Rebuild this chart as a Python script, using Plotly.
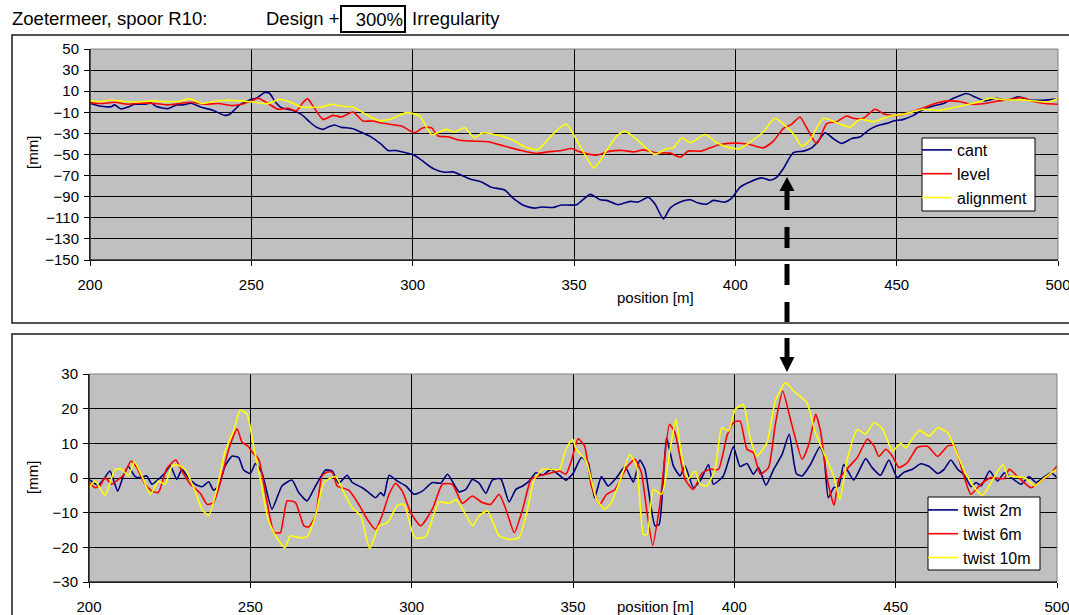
import plotly.graph_objects as go

# ---- track geometry along spoor R10, position [m] -> deviation [mm] ----
CANT = [(200, -1.7), (203.5, -4.3), (206.6, -4.6), (207.6, -3.0), (209.7, -6.8), (211.8, -4.9),
        (213.8, -2.4), (216.9, -2.4), (219.0, -1.1), (220.6, -4.6), (224.2, -6.5), (226.8, -3.0),
        (228.8, -3.0), (231.4, -1.4), (234.5, -5.2), (238.1, -8.1), (241.7, -12.9), (243.3, -11.9),
        (246.4, -3.0), (250.0, 2.4), (251.6, 3.3), (254.1, 8.7), (255.7, 7.8), (257.2, 0.8),
        (259.3, -5.6), (262.4, -7.8), (265.5, -11.9), (268.1, -19.2), (270.1, -24.0), (272.2, -26.2),
        (273.8, -24.0), (275.8, -22.0), (277.9, -24.3), (279.4, -24.6), (281.5, -25.6), (284.1, -29.0),
        (287.2, -33.5), (290.3, -40.5), (292.4, -46.2), (294.9, -46.2), (297.5, -48.1), (300.0, -50.0),
        (302.2, -54.1), (304.8, -60.2), (306.8, -64.0), (309.9, -66.8), (312.5, -66.5), (314.6, -69.0),
        (317.7, -73.2), (321.3, -76.0), (324.4, -81.1), (328.5, -83.7), (331.1, -91.3), (334.7, -98.6),
        (337.8, -100.8), (339.9, -99.8), (343.5, -100.2), (346.1, -97.9), (350.8, -97.6), (355.0, -87.8),
        (358.1, -92.9), (360.1, -93.5), (363.7, -97.6), (367.4, -94.4), (369.9, -95.1), (373.0, -90.6),
        (375.1, -97.0), (377.7, -111.0), (379.8, -100.8), (382.9, -95.1), (386.0, -92.9), (388.5, -96.0),
        (391.1, -97.0), (393.2, -93.5), (396.8, -95.1), (398.9, -91.3), (401.4, -81.1), (404.5, -76.0),
        (408.2, -72.2), (410.7, -74.4), (412.8, -71.6), (414.9, -63.3), (417.9, -48.4), (421.1, -46.8),
        (423.7, -43.7), (425.7, -37.3), (427.8, -29.4), (430.4, -35.1), (433.0, -39.5), (436.1, -34.8),
        (438.6, -33.5), (441.2, -27.1), (443.8, -23.0), (446.9, -20.5), (449.0, -18.3), (452.1, -16.7),
        (455.2, -12.9), (458.3, -7.1), (461.4, -4.0), (464.5, -1.7), (467.6, 3.3), (471.7, 7.8),
        (474.3, 4.6), (477.4, 0.8), (481.0, 3.3), (484.1, 1.4), (487.7, 4.6), (491.3, 1.7),
        (495.5, 1.4), (500.0, 3.0)]

LEVEL = [(200, -0.8), (203.5, -1.7), (207.6, -0.5), (211.8, -2.4), (215.9, -1.1), (220.0, -1.7),
         (224.2, -3.0), (228.3, -1.4), (231.4, -0.5), (235.5, -2.4), (239.7, -1.7), (244.0, -3.7),
         (246.9, -2.4), (250.0, 0.8), (252.1, 3.3), (255.2, -1.7), (258.3, -7.1), (261.4, -6.2),
         (263.9, -8.7), (266.0, -0.8), (267.4, 3.0), (269.1, -4.0), (272.2, -16.7), (275.3, -12.9),
         (277.9, -14.4), (281.5, -9.7), (284.6, -18.3), (287.7, -18.3), (290.3, -20.2), (296.5, -23.0),
         (300.6, -29.4), (303.2, -24.6), (305.8, -24.6), (307.9, -32.5), (311.0, -33.2), (314.1, -36.3),
         (318.2, -37.3), (323.4, -37.9), (328.5, -42.1), (333.7, -46.2), (338.4, -49.0), (341.9, -47.5),
         (346.1, -46.2), (349.2, -44.3), (351.9, -47.5), (357.0, -50.6), (361.2, -46.8), (365.3, -46.2),
         (368.4, -47.5), (371.5, -45.6), (375.6, -48.4), (379.8, -48.7), (382.9, -52.5), (385.4, -46.8),
         (389.4, -46.8), (392.2, -43.7), (395.3, -40.5), (400.4, -39.2), (404.5, -40.5), (408.6, -43.7),
         (411.8, -37.3), (414.9, -25.2), (417.4, -21.4), (420.0, -14.4), (422.1, -24.6), (425.2, -39.8),
         (428.3, -20.8), (431.4, -18.9), (434.5, -13.5), (436.5, -15.7), (439.6, -15.7), (443.3, -7.1),
         (446.3, -11.9), (449.8, -12.9), (454.0, -10.3), (458.0, -6.2), (462.1, -1.4), (466.2, 0.8),
         (469.3, 0.2), (473.4, -2.4), (477.5, -1.7), (481.6, 0.8), (485.7, 2.4), (488.8, 4.0),
         (491.9, 0.8), (496.1, -1.7), (500.0, -2.4)]

ALIGNMENT = [(200, 0.8), (203.5, 0.2), (206.6, 1.7), (210.7, 0.2), (214.8, -0.2), (219.0, 0.8),
             (223.1, 0.2), (227.3, 0.2), (230.9, 3.0), (234.5, -1.7), (238.6, 0.2), (242.8, 1.4),
             (246.9, 0.8), (251.0, -0.5), (255.2, -1.7), (258.8, 2.4), (262.4, -0.8), (265.5, -4.9),
             (271.7, -4.9), (275.3, -2.4), (277.9, -4.3), (281.5, -4.9), (285.1, -11.3), (289.2, -17.6),
             (292.9, -16.7), (298.1, -10.3), (302.2, -13.5), (305.8, -31.0), (310.4, -26.2), (313.0, -28.7),
             (316.1, -24.6), (319.1, -34.1), (321.7, -29.4), (327.4, -32.5), (331.0, -36.3), (334.7, -42.7),
             (338.8, -45.2), (342.4, -34.1), (345.0, -26.2), (347.6, -21.4), (351.9, -42.1), (356.2, -62.7),
             (360.1, -46.2), (363.2, -32.5), (365.8, -27.8), (369.4, -35.7), (375.1, -50.0), (378.7, -44.3),
             (380.8, -43.7), (383.4, -34.1), (386.0, -38.9), (390.6, -31.0), (394.2, -38.9), (398.4, -43.7),
             (401.4, -44.3), (405.0, -37.3), (408.7, -28.4), (412.3, -15.7), (415.9, -24.0), (418.5, -32.5),
             (420.6, -42.1), (423.2, -35.7), (427.3, -15.7), (431.4, -19.8), (435.6, -24.0), (438.6, -16.7),
             (442.8, -18.9), (448.0, -13.5), (452.1, -11.9), (458.3, -7.1), (463.4, -8.1), (469.6, -4.0),
             (474.8, -0.8), (478.9, 3.3), (484.1, 1.7), (489.3, 1.7), (494.4, 0.2), (497.5, 0.2),
             (500.0, 3.3)]

TWIST_2M = [(200, -0.4), (201.3, -1.3), (202.9, -2.1), (204.5, -0.4), (206.5, 2.0), (208.9, -3.8),
            (210.7, 0.8), (212.2, 3.3), (214.3, 0.4), (215.8, 0.1), (217.9, 0.6), (219.5, -1.8),
            (221.5, -0.4), (223.6, 1.5), (225.2, 3.5), (227.2, -0.4), (228.8, 2.5), (230.8, 0.1),
            (232.9, -1.8), (235.0, -2.5), (237.1, -1.1), (238.6, -3.5), (240.2, -2.3), (242.2, 3.5),
            (244.3, 6.3), (246.4, 5.9), (247.9, 2.3), (250.0, 1.3), (251.6, 4.2), (253.6, 1.5),
            (256.7, -9.0), (259.8, -2.3), (262.9, -0.6), (265.0, -4.2), (267.6, -6.6), (270.2, -2.3),
            (273.3, 2.3), (275.4, 2.0), (277.4, -1.5), (280.0, 0.8), (281.6, -1.3), (284.7, -2.8),
            (286.7, -4.2), (288.8, -5.7), (290.4, -4.2), (291.4, -5.2), (293.0, 0.8), (295.6, -0.9),
            (298.2, -2.3), (300.7, -4.7), (303.3, -3.8), (306.4, -1.3), (309.0, -1.5), (311.1, 1.1),
            (314.7, -4.0), (316.8, -3.3), (318.8, -0.4), (320.9, -1.5), (323.0, -4.4), (325.0, -0.6),
            (327.6, -0.2), (330.2, -6.9), (332.3, -3.3), (334.4, -2.3), (336.4, -0.9), (338.5, 1.5),
            (340.6, 0.8), (343.2, 2.5), (345.8, 0.8), (347.8, -0.6), (350.0, 1.3), (352.6, 5.9),
            (354.7, 4.4), (356.7, -5.7), (358.8, 0.4), (360.9, -2.3), (363.5, 0.1), (366.1, 3.3),
            (368.7, -1.2), (370.7, 5.2), (372.3, 2.5), (375.4, -13.8), (376.7, -13.4), (379.0, 11.6),
            (381.1, 3.5), (383.2, 0.6), (384.7, 3.5), (387.3, -2.8), (389.4, -0.9), (392.0, 3.9),
            (393.5, -1.8), (396.6, 0.6), (399.7, 9.0), (401.8, 3.3), (403.9, 4.2), (405.9, 1.1),
            (407.5, 3.0), (409.8, -2.1), (412.2, 2.5), (414.8, 6.8), (417.0, 12.6), (419.2, 1.3),
            (421.0, 0.6), (423.6, 3.9), (426.5, 9.0), (427.7, 6.8), (429.1, -5.7), (430.8, -2.8),
            (432.4, -2.3), (433.9, 3.9), (437.0, -0.6), (440.7, 5.6), (442.7, 3.0), (445.3, 0.8),
            (447.9, 5.2), (450.5, 0.1), (452.6, 1.7), (455.2, 2.5), (457.8, 4.1), (460.4, 3.3),
            (463.0, 1.3), (465.0, 2.5), (467.1, 5.2), (469.2, 2.5), (471.3, 0.8), (473.4, -2.5),
            (474.9, -1.3), (476.5, -2.3), (479.1, 2.0), (481.6, -0.9), (483.7, 1.5), (485.8, 0.1),
            (488.9, -1.8), (491.3, 0.4), (493.5, -1.3), (496.1, 0.4), (498.2, 1.5), (500.0, 0.1)]

TWIST_6M = [(200, -1.3), (201.9, -2.8), (203.4, -2.3), (205.0, 0.1), (207.0, -1.8), (209.1, -0.4),
            (210.7, 0.8), (213.0, 4.9), (214.8, 3.0), (217.4, -1.8), (219.5, -3.8), (221.5, -4.2),
            (224.1, 2.7), (226.9, 5.2), (228.8, 2.0), (231.4, -1.8), (234.5, -4.4), (236.6, -7.6),
            (238.6, -7.1), (240.7, -1.3), (243.3, 8.3), (245.9, 14.2), (247.4, 10.4), (249.5, 9.0),
            (250.5, 7.5), (252.6, 5.4), (255.2, -7.1), (257.3, -15.6), (259.3, -15.8), (261.4, -6.6),
            (264.0, -7.1), (266.6, -13.8), (268.1, -14.1), (270.2, -10.9), (272.2, 0.6), (273.8, 1.7),
            (275.4, 1.7), (276.9, -2.3), (280.5, -3.5), (283.6, -7.6), (286.2, -11.9), (288.8, -14.8),
            (290.8, -10.9), (293.0, -4.7), (295.0, -1.5), (297.1, -3.8), (299.7, -10.0), (302.8, -13.8),
            (306.4, -9.0), (309.5, -1.8), (312.6, -1.8), (315.7, -7.3), (318.8, -5.2), (321.9, -7.1),
            (324.5, -7.6), (327.1, -4.7), (329.2, -9.0), (331.8, -15.8), (334.4, -9.0), (337.0, -0.4),
            (339.5, 0.6), (342.7, 1.3), (345.8, 2.0), (347.8, 1.1), (349.5, 5.0), (351.6, 11.3),
            (353.6, 9.2), (355.7, -2.3), (358.3, -7.6), (360.4, -4.7), (363.0, -3.3), (366.6, 3.0),
            (369.2, 5.4), (371.2, 1.5), (372.8, -9.0), (374.7, -19.4), (377.0, -7.1), (379.9, 15.5),
            (381.6, 13.1), (384.7, -0.4), (387.3, -3.3), (389.9, 1.3), (392.5, 2.5), (395.1, 2.5),
            (397.7, 12.1), (399.7, 16.0), (401.8, 16.4), (403.9, 8.3), (405.9, 7.3), (408.0, 1.1),
            (410.6, 3.0), (412.7, 15.5), (415.0, 25.1), (417.4, 16.9), (421.0, 5.4), (423.1, 9.7),
            (425.2, 18.4), (426.7, 13.6), (428.8, -0.4), (430.9, -7.9), (432.4, -0.4), (435.0, 2.7),
            (438.1, 5.9), (441.2, 11.2), (443.3, 9.2), (444.8, 6.2), (446.9, 8.3), (449.0, 6.3),
            (451.0, 3.0), (453.6, 4.4), (456.7, 8.8), (459.8, 9.2), (463.0, 6.2), (466.1, 9.2),
            (468.1, 9.4), (470.7, 2.0), (473.3, -4.7), (476.4, -1.8), (479.5, 0.1), (483.6, -0.2),
            (485.2, 2.5), (487.8, 0.4), (491.9, -2.8), (495.0, -0.9), (498.1, 1.3), (500.0, 3.5)]

TWIST_10M = [(200, -2.8), (201.9, -0.9), (205.0, -5.0), (208.1, 2.5), (210.1, 2.5), (212.2, 0.6),
             (214.1, 4.6), (216.4, 0.6), (219.0, -4.7), (221.5, -0.9), (223.6, -1.8), (225.7, 3.5),
             (227.7, 3.7), (229.8, 2.5), (232.9, -3.8), (235.0, -9.0), (237.1, -10.9), (239.6, -3.3),
             (242.2, 7.8), (244.8, 13.6), (246.9, 19.6), (249.0, 18.4), (251.0, 9.2), (253.1, -0.4),
             (255.5, -11.9), (257.8, -16.7), (260.7, -20.1), (262.4, -16.7), (265.0, -17.2), (267.6, -16.9),
             (270.2, -10.9), (272.8, -1.3), (276.4, 0.4), (279.5, -5.2), (281.6, -8.6), (284.2, -10.9),
             (287.0, -20.4), (289.9, -13.8), (292.5, -12.9), (295.6, -7.9), (297.6, -7.6), (300.2, -15.6),
             (301.3, -17.3), (304.3, -17.0), (308.5, -6.9), (311.6, -7.3), (313.7, -6.2), (315.8, -9.0),
             (318.9, -13.8), (320.9, -10.9), (323.5, -9.5), (327.1, -16.7), (330.2, -17.7), (333.3, -17.2),
             (335.9, -9.0), (338.0, -0.4), (340.6, 2.5), (343.2, 2.5), (345.8, 2.5), (347.8, 8.3),
             (349.9, 11.2), (351.0, 8.3), (354.1, 4.9), (357.3, -6.2), (359.8, -9.0), (361.9, -7.1),
             (364.5, -0.9), (367.6, 6.8), (369.7, 3.5), (371.8, -16.3), (373.0, -16.3), (374.9, -3.3),
             (377.5, -4.7), (380.1, 8.3), (381.9, 16.9), (383.7, 6.3), (385.8, -0.2), (387.8, 2.0),
             (389.4, -1.8), (391.5, -2.3), (394.0, 2.5), (396.1, 14.5), (398.2, 13.6), (400.3, 19.8),
             (402.8, 21.2), (404.9, 11.6), (407.0, 6.3), (410.1, 10.2), (412.7, 22.2), (415.8, 27.5),
             (418.4, 25.1), (422.5, 21.7), (425.1, 13.1), (427.7, 7.3), (430.8, 0.6), (432.7, -6.2),
             (435.0, 5.4), (438.1, 14.0), (440.7, 12.6), (443.3, 16.0), (445.9, 14.2), (449.0, 7.8),
             (451.6, 10.0), (453.1, 8.7), (457.3, 13.8), (460.4, 12.1), (463.0, 14.5), (466.1, 13.1),
             (468.1, 9.2), (471.3, 2.0), (474.4, -2.8), (477.0, -5.0), (480.1, -0.4), (483.2, 3.9),
             (484.8, 0.6), (487.4, 0.4), (490.5, -0.2), (493.1, -2.3), (496.2, 0.1), (498.2, 1.5),
             (500.0, 2.5)]

TOP_SERIES = [("cant", CANT, "#000080"), ("level", LEVEL, "#FF0000"), ("alignment", ALIGNMENT, "#FFFF00")]
BOTTOM_SERIES = [("twist 2m", TWIST_2M, "#000080"), ("twist 6m", TWIST_6M, "#FF0000"),
                 ("twist 10m", TWIST_10M, "#FFFF00")]

W, H = 1069, 615
FONT = "Liberation Sans, Arial, sans-serif"


def px(x):
    return x / W


def py(y):
    return 1 - y / H


fig = go.Figure()
for name, pts, col in TOP_SERIES:
    fig.add_trace(go.Scatter(x=[p[0] for p in pts], y=[p[1] for p in pts], name=name, mode="lines",
                             line=dict(color=col, width=1.6, shape="spline", smoothing=0.6),
                             xaxis="x", yaxis="y", legend="legend"))
for name, pts, col in BOTTOM_SERIES:
    fig.add_trace(go.Scatter(x=[p[0] for p in pts], y=[p[1] for p in pts], name=name, mode="lines",
                             line=dict(color=col, width=1.6, shape="spline", smoothing=0.5),
                             xaxis="x2", yaxis="y2", legend="legend2"))

axis_common = dict(showgrid=True, gridcolor="black", gridwidth=1, zeroline=False, showline=True,
                   linecolor="black", linewidth=1, ticks="outside", ticklen=5, tickcolor="black",
                   tickfont=dict(family=FONT, size=15, color="black"), fixedrange=True,
                   automargin=False, ticklabeloverflow="allow")

legend_common = dict(xanchor="left", yanchor="top", bgcolor="rgba(0,0,0,0)", borderwidth=0,
                     font=dict(family=FONT, size=16, color="black"), itemwidth=30, tracegroupgap=0)

fig.update_layout(
    width=W, height=H, autosize=False,
    margin=dict(l=0, r=0, t=0, b=0, pad=0, autoexpand=False),
    paper_bgcolor="white", plot_bgcolor="#C0C0C0",
    font=dict(family=FONT, color="black"),
    xaxis=dict(domain=[px(90), px(1058)], anchor="y", range=[200, 500], tick0=200, dtick=50,
               ticklabelstandoff=6, **axis_common),
    yaxis=dict(domain=[py(260), py(49)], anchor="x", range=[-150, 50], tick0=50, dtick=20,
               ticklabelstandoff=2, **axis_common),
    xaxis2=dict(domain=[px(89), px(1057)], anchor="y2", range=[200, 500], tick0=200, dtick=50,
                ticklabelstandoff=6, **axis_common),
    yaxis2=dict(domain=[py(582), py(374)], anchor="x2", range=[-30, 30], tick0=0, dtick=10,
                ticklabelstandoff=2, **axis_common),
    legend=dict(x=px(917), y=py(133), **legend_common),
    legend2=dict(x=px(923), y=py(493), **legend_common),
)

shapes = []
# chart-object frames
shapes.append(dict(type="rect", xref="paper", yref="paper", x0=px(12), x1=1.05, y0=py(323), y1=py(35),
                   line=dict(color="#1a1a1a", width=1.5)))
shapes.append(dict(type="rect", xref="paper", yref="paper", x0=px(12), x1=1.05, y0=-0.05, y1=py(334),
                   line=dict(color="#1a1a1a", width=1.5)))
# grey plot-area borders, black value/category axes
for xr, yr in (("x domain", "y domain"), ("x2 domain", "y2 domain")):
    shapes.append(dict(type="rect", xref=xr, yref=yr, x0=0, x1=1, y0=0, y1=1,
                       line=dict(color="#808080", width=1), layer="above"))
    shapes.append(dict(type="line", xref=xr, yref=yr, x0=0, x1=0, y0=0, y1=1,
                       line=dict(color="black", width=1), layer="above"))
    shapes.append(dict(type="line", xref=xr, yref=yr, x0=0, x1=1, y0=0, y1=0,
                       line=dict(color="black", width=1), layer="above"))

# legend boxes
for x0, x1, y0, y1 in ((922, 1035, 138, 211), (928, 1040, 497, 570)):
    shapes.append(dict(type="rect", xref="paper", yref="paper", x0=px(x0), x1=px(x1), y0=py(y1), y1=py(y0),
                       fillcolor="white", line=dict(color="black", width=1), layer="above"))

# dashed arrow linking the two charts
ax_c, hw, sw = 787, 7.5, 2.5
shapes.append(dict(type="path", xref="paper", yref="paper", fillcolor="black", line=dict(width=0),
                   path=f"M {px(ax_c)} {py(177)} L {px(ax_c - hw)} {py(191)} L {px(ax_c + hw)} {py(191)} Z"))
shapes.append(dict(type="path", xref="paper", yref="paper", fillcolor="black", line=dict(width=0),
                   path=f"M {px(ax_c)} {py(372)} L {px(ax_c - hw)} {py(357)} L {px(ax_c + hw)} {py(357)} Z"))
for y0, y1 in ((190, 210), (227, 248), (264, 285), (302, 322), (338, 358)):
    shapes.append(dict(type="rect", xref="paper", yref="paper", x0=px(ax_c - sw), x1=px(ax_c + sw),
                       y0=py(y1), y1=py(y0), fillcolor="black", line=dict(width=0)))
fig.update_layout(shapes=shapes)

annotations = [
    dict(text="Zoetermeer, spoor R10:", x=px(10), y=py(19), xanchor="left", yanchor="middle",
         font=dict(size=18.5)),
    dict(text="Design +", x=px(264), y=py(19), xanchor="left", yanchor="middle", font=dict(size=18.5)),
    dict(text="300%", x=px(340), y=py(19), xanchor="left", yanchor="middle", font=dict(size=18.5),
         align="right", width=60, height=22, borderpad=1, borderwidth=2, bordercolor="black"),
    dict(text="Irregularity", x=px(410), y=py(19), xanchor="left", yanchor="middle", font=dict(size=18.5)),
    dict(text="[mm]", x=px(32), y=py(153), textangle=-90, xanchor="center", yanchor="middle",
         font=dict(size=15)),
    dict(text="[mm]", x=px(32), y=py(478), textangle=-90, xanchor="center", yanchor="middle",
         font=dict(size=15)),
    dict(text="position [m]", x=px(655), y=py(297), xanchor="center", yanchor="middle", font=dict(size=15)),
    dict(text="position [m]", x=px(655), y=py(606), xanchor="center", yanchor="middle", font=dict(size=15)),
]
for a in annotations:
    a.update(xref="paper", yref="paper", showarrow=False)
    a["font"] = dict(family=FONT, color="black", **a["font"])
fig.update_layout(annotations=annotations)

fig.write_html("out.html")
